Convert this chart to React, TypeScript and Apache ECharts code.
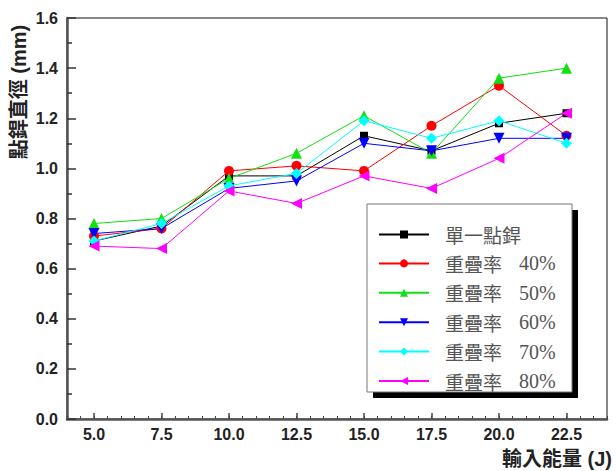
import React, { useEffect, useRef } from "react";
import * as echarts from "echarts";

// Input energy (J) on the x axis
const energy = [5.0, 7.5, 10.0, 12.5, 15.0, 17.5, 20.0, 22.5];
// Weld nugget diameter (mm) for each condition
const single = [0.71, 0.77, 0.97, 0.97, 1.13, 1.07, 1.18, 1.22];
const overlap40 = [0.73, 0.76, 0.99, 1.01, 0.99, 1.17, 1.33, 1.13];
const overlap50 = [0.78, 0.8, 0.96, 1.06, 1.21, 1.06, 1.36, 1.4];
const overlap60 = [0.74, 0.76, 0.92, 0.95, 1.1, 1.07, 1.12, 1.12];
const overlap70 = [0.71, 0.78, 0.93, 0.98, 1.19, 1.12, 1.19, 1.1];
const overlap80 = [0.69, 0.68, 0.91, 0.86, 0.97, 0.92, 1.04, 1.22];

const seriesNames = [
  "單一點銲",
  "重疊率  40%",
  "重疊率  50%",
  "重疊率  60%",
  "重疊率  70%",
  "重疊率  80%",
];
const majorTicks = [5.0, 7.5, 10.0, 12.5, 15.0, 17.5, 20.0, 22.5];

const labelFont = "Liberation Sans, Arial, sans-serif";
const cjkBold = "Liberation Sans, Noto Sans CJK TC, sans-serif";
const legendFont = "'Liberation Serif', 'Noto Sans CJK TC', serif";

export default function App() {
  const ref = useRef<HTMLDivElement>(null);

  useEffect(() => {
    if (!ref.current) return;
    const chart = echarts.init(ref.current, undefined, { renderer: "svg" });

    const pairs = (vals: number[]) => energy.map((x, i) => [x, vals[i]]);
    const styles = [
      { data: single, color: "#000000", symbol: "rect", size: 8, rotate: 0 },
      { data: overlap40, color: "#ff0000", symbol: "circle", size: 10, rotate: 0 },
      { data: overlap50, color: "#11e011", symbol: "triangle", size: 11, rotate: 0 },
      { data: overlap60, color: "#0000ff", symbol: "triangle", size: 11, rotate: 180 },
      { data: overlap70, color: "#00ffff", symbol: "diamond", size: 11, rotate: 0 },
      { data: overlap80, color: "#ff00ff", symbol: "triangle", size: 11, rotate: 90 },
    ];

    // legend entries: the CJK part and the percentage are styled separately
    const legendFormatter = (name: string) => {
      const m = name.match(/^(\S+)\s+(\S+)$/);
      if (!m) return `{c|${name}}`;
      return `{c|${m[1]}}{n|${m[2]}}`;
    };

    const option: any = {
      animation: false,
      backgroundColor: "#ffffff",
      grid: {
        left: 67,
        right: 9,
        top: 18,
        bottom: 52,
        show: true,
        borderColor: "#111",
        borderWidth: 1,
        backgroundColor: "transparent",
      },
      xAxis: [
        {
          type: "value",
          min: 4,
          max: 24,
          interval: 0.5,
          position: "bottom",
          axisLine: { show: true, lineStyle: { color: "#555", width: 2.5 } },
          axisTick: { show: true, inside: true, length: 3, lineStyle: { color: "#444", width: 1 } },
          axisLabel: { show: false },
          splitLine: { show: false },
        },
        {
          type: "value",
          min: 4,
          max: 24,
          position: "bottom",
          axisLine: { show: false },
          axisTick: {
            show: true,
            inside: true,
            length: 6,
            customValues: majorTicks,
            lineStyle: { color: "#444", width: 1.5 },
          },
          axisLabel: {
            show: true,
            customValues: majorTicks,
            margin: 7,
            formatter: (v: number) => v.toFixed(1),
            fontFamily: labelFont,
            fontWeight: "bold",
            fontSize: 16,
            color: "#222",
          },
          splitLine: { show: false },
        },
      ],
      yAxis: {
        type: "value",
        min: 0,
        max: 1.6,
        interval: 0.2,
        axisLine: { show: true, lineStyle: { color: "#555", width: 2.5 } },
        axisTick: { show: true, inside: true, length: 9, lineStyle: { color: "#333", width: 1.5 } },
        minorTick: { show: true, splitNumber: 2, length: 5, lineStyle: { color: "#333", width: 1.5 } },
        axisLabel: {
          margin: 9,
          formatter: (v: number) => v.toFixed(1),
          fontFamily: labelFont,
          fontWeight: "bold",
          fontSize: 16,
          color: "#222",
        },
        splitLine: { show: false },
      },
      legend: {
        orient: "vertical",
        left: 378,
        top: 225,
        padding: 0,
        itemWidth: 50,
        itemHeight: 10,
        itemGap: 9.4,
        data: seriesNames,
        formatter: legendFormatter,
        textStyle: {
          fontFamily: legendFont,
          fontSize: 20,
          lineHeight: 18,
          color: "#555",
          padding: [0, 0, 0, 11],
          rich: {
            c: {
              fontFamily: "'Noto Sans CJK TC', sans-serif",
              fontSize: 19,
              lineHeight: 18,
              color: "#555",
            },
            n: {
              fontFamily: "'Liberation Serif', 'DejaVu Serif', serif",
              fontSize: 20,
              lineHeight: 18,
              color: "#555",
              padding: [0, 0, 0, 17],
            },
          },
        },
        z: 5,
      },
      graphic: [
        // legend frame with a solid drop shadow
        {
          type: "rect",
          z: 3,
          shape: { x: 373, y: 210, width: 205, height: 188 },
          style: { fill: "#000" },
        },
        {
          type: "rect",
          z: 3,
          shape: { x: 367, y: 204, width: 205, height: 188 },
          style: { fill: "#fff", stroke: "#777", lineWidth: 1 },
        },
        {
          type: "text",
          x: 19,
          y: 92,
          rotation: Math.PI / 2,
          style: {
            text: "點銲直徑 (mm)",
            font: `bold 20px ${cjkBold}`,
            fill: "#222",
            textAlign: "center",
            textVerticalAlign: "middle",
            align: "center",
            verticalAlign: "middle",
          },
        },
        {
          type: "text",
          x: 612,
          y: 459,
          style: {
            text: "輸入能量 (J)",
            font: `bold 20px ${cjkBold}`,
            fill: "#222",
            textAlign: "right",
            textVerticalAlign: "middle",
            align: "right",
            verticalAlign: "middle",
          },
        },
      ],
      series: styles.map((s, i) => ({
        name: seriesNames[i],
        type: "line",
        xAxisIndex: 0,
        data: pairs(s.data),
        symbol: s.symbol,
        symbolSize: s.size,
        symbolRotate: s.rotate,
        showAllSymbol: true,
        lineStyle: { color: s.color, width: 1 },
        itemStyle: { color: s.color },
        z: 2,
      })),
    };

    chart.setOption(option);
    return () => chart.dispose();
  }, []);

  return (
    <div
      ref={ref}
      style={{ position: "absolute", left: 0, top: 0, width: 616, height: 471 }}
    />
  );
}
